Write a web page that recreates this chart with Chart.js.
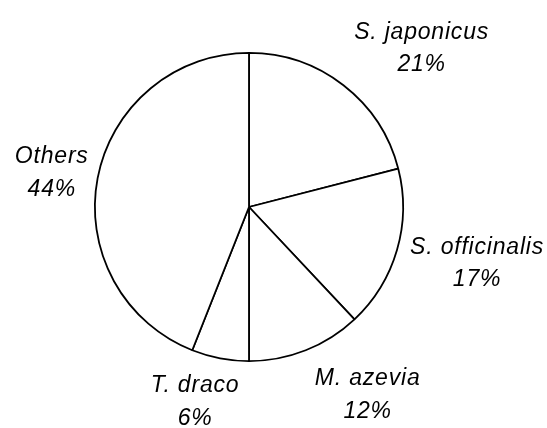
<!DOCTYPE html>
<html>
<head>
<meta charset="utf-8">
<script src="https://cdn.jsdelivr.net/npm/chart.js@4/dist/chart.umd.min.js"></script>
<style>
  html, body { margin: 0; padding: 0; background: #fff; }
  #wrap { width: 547px; height: 428px; position: relative; }
</style>
</head>
<body>
<div id="wrap"><canvas id="c" width="547" height="428"></canvas></div>
<script>
// Data
const categories = ["S. japonicus", "S. officinalis", "M. azevia", "T. draco", "Others"];
const shares = [21, 17, 12, 6, 44];

// Label placement (relative to pie centre, in units of radius) - layout only
const labelOffsets = [
  [1.12, -1.03],
  [1.48, 0.365],
  [0.77, 1.22],
  [-0.35, 1.265],
  [-1.28, -0.22]
];

const labelPlugin = {
  id: 'outsideLabels',
  afterDatasetsDraw(chart) {
    const ctx = chart.ctx;
    const meta = chart.getDatasetMeta(0);
    const arc0 = meta.data[0];
    const cx = arc0.x, cy = arc0.y, r = arc0.outerRadius;
    ctx.save();
    ctx.fillStyle = '#000';
    ctx.font = 'italic 23px "Liberation Sans", Arial, sans-serif';
    ctx.textAlign = 'center';
    ctx.textBaseline = 'middle';
    if ('letterSpacing' in ctx) ctx.letterSpacing = '0.8px';
    const total = shares.reduce((a, b) => a + b, 0);
    categories.forEach((name, i) => {
      const pct = Math.round(shares[i] / total * 100) + '%';
      const x = cx + labelOffsets[i][0] * r;
      const y = cy + labelOffsets[i][1] * r;
      ctx.fillText(name, x, y - 16);
      ctx.fillText(pct, x, y + 16.5);
    });
    ctx.restore();
  }
};

new Chart(document.getElementById('c'), {
  type: 'pie',
  data: {
    labels: categories,
    datasets: [{
      data: shares,
      backgroundColor: '#ffffff',
      borderColor: '#000000',
      borderWidth: 1.8
    }]
  },
  options: {
    responsive: false,
    animation: false,
    rotation: 0,
    layout: { padding: { left: 94, right: 143, top: 52, bottom: 66 } },
    plugins: {
      legend: { display: false },
      tooltip: { enabled: false }
    }
  },
  plugins: [labelPlugin]
});
</script>
</body>
</html>
